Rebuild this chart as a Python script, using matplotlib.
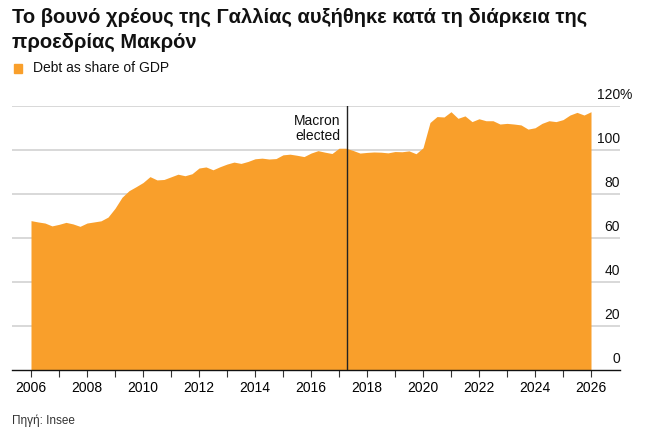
import numpy as np
import matplotlib.pyplot as plt
from matplotlib.patches import Rectangle

# 四半期データ (債務残高 / GDP, %)
years = np.arange(2006.0, 2026.01, 0.25)
debt = [67.9, 67.3, 66.8, 65.5, 66.2, 67.1, 66.4, 65.3,
        66.8, 67.3, 67.8, 69.5, 73.5, 78.5, 81.5, 83.3,
        85.2, 87.9, 86.4, 86.6, 87.8, 89.0, 88.3, 89.2,
        91.8, 92.3, 91.0, 92.4, 93.6, 94.5, 93.9, 94.8,
        96.0, 96.3, 95.9, 96.1, 97.8, 98.1, 97.6, 97.0,
        98.6, 99.7, 99.0, 98.4, 100.8, 100.8, 99.8, 98.6,
        98.9, 99.1, 99.0, 98.7, 99.3, 99.2, 99.6, 98.3,
        101.0, 112.5, 115.2, 115.0, 117.4, 114.4, 115.5, 112.9,
        114.2, 113.3, 113.3, 111.8, 112.1, 111.8, 111.4, 109.5,
        110.1, 112.1, 113.3, 112.9, 113.8, 115.9, 117.1, 115.9,
        117.4]
macron_year = 2017.3
yticks = [0, 20, 40, 60, 80, 100, 120]
xticks_major = list(range(2006, 2027, 2))
xticks_minor = list(range(2007, 2026, 2))

title = "Το βουνό χρέους της Γαλλίας αυξήθηκε κατά τη διάρκεια της\nπροεδρίας Μακρόν"
legend_label = "Debt as share of GDP"
source = "Πηγή: Insee"

orange = "#f99f2b"
plt.rcParams['font.family'] = ['Liberation Sans', 'DejaVu Sans']

W, H = 667, 442
fig = plt.figure(figsize=(W / 100, H / 100), dpi=100)
ax = fig.add_axes([12 / W, (H - 370) / H, (620 - 12) / W, (370 - 106) / H])
ax.set_xlim(2006 - 19 / 28, 2026 + 29 / 28)
ax.set_ylim(0, 120)

# グリッド線
for v in yticks[1:]:
    ax.axhline(v, color="#d6d6d6", lw=1.3, zorder=1)

ax.fill_between(years, 0, debt, color=orange, lw=0, zorder=2)
ax.axvline(macron_year, ymin=0, ymax=1, color="#222222", lw=1, zorder=3)
ax.text(macron_year - 0.25, 116.5, "Macron\nelected", ha="right", va="top",
        fontsize=10, linespacing=1.15, color="#111111")

for s in ["top", "left", "right"]:
    ax.spines[s].set_visible(False)
ax.spines["bottom"].set_color("#111111")
ax.spines["bottom"].set_linewidth(1)
ax.set_yticks([])
ax.set_xticks(xticks_major)
ax.set_xticks(xticks_minor, minor=True)
ax.set_xticklabels([str(y) for y in xticks_major], fontsize=10)
ax.tick_params(axis="x", which="both", length=5, width=0.8, color="#333333", pad=3)

# y軸ラベル
for v in yticks:
    ax.text(1.0, v + 1.8, str(v), transform=ax.get_yaxis_transform(),
            ha="right", va="bottom", fontsize=10, color="#111111")
ax.text(1.0, 120 + 1.8, "%", transform=ax.get_yaxis_transform(),
        ha="left", va="bottom", fontsize=10, color="#111111")

fig.text(12 / W, 1 - 8 / H, title, ha="left", va="top", fontsize=14.5,
         fontweight="bold", linespacing=1.4, color="#111111")
fig.patches.append(Rectangle((14 / W, 1 - 73 / H), 8 / W, 9 / H,
                             transform=fig.transFigure, color=orange))
fig.text(33 / W, 1 - 68 / H, legend_label, ha="left", va="center", fontsize=10,
         color="#111111")
fig.text(12 / W, 1 - 421 / H, source, ha="left", va="center", fontsize=8.5,
         color="#333333")

fig.savefig("out.png", dpi=100)
